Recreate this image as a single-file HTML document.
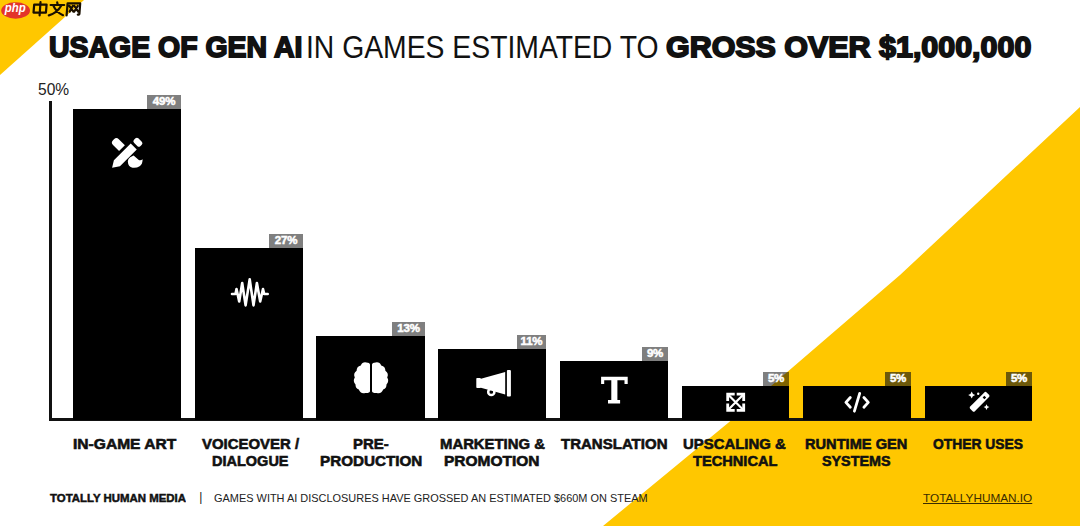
<!DOCTYPE html>
<html><head><meta charset="utf-8">
<style>
html,body{margin:0;padding:0}
body{width:1080px;height:526px;overflow:hidden;background:#fff;position:relative;font-family:"Liberation Sans",sans-serif;color:#111}
.a{position:absolute;white-space:nowrap;transform-origin:0 0}
.bar{position:absolute;background:#000}
.lab{position:absolute;background:rgba(0,0,0,0.5);color:#fff;font-weight:bold;font-size:11.5px;line-height:13px;height:14px;text-align:center;-webkit-text-stroke:0.5px #fff;letter-spacing:-0.2px}
.lab span{display:inline-block;transform-origin:50% 50%}
svg{position:absolute}
</style></head>
<body>
<svg style="left:0;top:0" width="1080" height="526" viewBox="0 0 1080 526">
  <polygon points="0,0 84,0 0,75" fill="#FFC700"/>
  <polygon points="603,526 728,423 900,275 1080,107 1080,526" fill="#FFC700"/>
</svg>
<svg style="left:0;top:0" width="84" height="22" viewBox="0 0 84 22">
  <ellipse cx="15.6" cy="10.5" rx="14.4" ry="8.2" fill="#E3342A"/>
  <text x="4.8" y="12.2" font-family="Liberation Sans" font-weight="bold" font-style="italic" font-size="12.5" fill="#fff" textLength="21" lengthAdjust="spacingAndGlyphs">php</text>
  <g fill="none" stroke="#1a1000" stroke-width="2.2" stroke-linecap="round" stroke-linejoin="round">
    <path d="M34.2,4.6 L46.6,4.6 L45.9,12.6 L33.5,12.6 Z M40.5,2.2 L39.6,15.4"/>
    <path d="M57.2,2.4 L57.6,4.2 M50.6,5 L64.2,5 M53.4,5.6 Q56,12 63,15.2 M61.2,5.8 Q57,13 48.8,15.4"/>
    <path d="M66.6,15.4 L67.6,3.4 L80.2,3.4 L79.4,13.8 Q79.2,15 77.8,14.6 M69.4,6 L73.4,11.6 M72.8,6 L69.6,11.6 M74.4,6 L78.2,11.6 M77.8,6 L74.2,11.6"/>
  </g>
</svg>
<div class="a" style="left:48.82px;top:32.40px;font-size:30px;line-height:30px;transform:scaleX(0.9482);font-weight:bold;-webkit-text-stroke:1.8px #111">USAGE OF GEN AI</div>
<div class="a" style="left:306.07px;top:32.20px;font-size:31px;line-height:31px;transform:scaleX(0.9136);">IN GAMES ESTIMATED TO</div>
<div class="a" style="left:666.01px;top:32.40px;font-size:30px;line-height:30px;transform:scaleX(1.0143);font-weight:bold;-webkit-text-stroke:1.8px #111">GROSS OVER $1,000,000</div>
<div class="a" style="left:38.12px;top:82.00px;font-size:16px;line-height:16px;transform:scaleX(0.9714);color:#222">50%</div>
<div class="bar" style="left:49px;top:101px;width:3px;height:320px;background:#111"></div>
<div class="bar" style="left:49px;top:418px;width:983px;height:3px;background:#111"></div>
<div class="bar" style="left:73px;top:109px;width:108px;height:311px"></div>
<div class="bar" style="left:195px;top:248px;width:108px;height:172px"></div>
<div class="bar" style="left:316px;top:336px;width:109px;height:84px"></div>
<div class="bar" style="left:438px;top:349px;width:108px;height:71px"></div>
<div class="bar" style="left:560px;top:361px;width:108px;height:59px"></div>
<div class="bar" style="left:682px;top:386px;width:107px;height:34px"></div>
<div class="bar" style="left:803px;top:386px;width:108px;height:34px"></div>
<div class="bar" style="left:925px;top:386px;width:107px;height:34px"></div>
<div class="lab" style="left:147px;top:95px;width:34px">49%</div>
<div class="lab" style="left:269px;top:234px;width:34px">27%</div>
<div class="lab" style="left:392px;top:322px;width:33px">13%</div>
<div class="lab" style="left:517px;top:335px;width:29px">11%</div>
<div class="lab" style="left:642px;top:347px;width:26px">9%</div>
<div class="lab" style="left:763px;top:372px;width:26px">5%</div>
<div class="lab" style="left:885px;top:372px;width:26px;background:#6c580a">5%</div>
<div class="lab" style="left:1006px;top:372px;width:26px;background:#6c580a">5%</div>
<div class="a" style="left:72.61px;top:436.00px;font-size:15px;line-height:15px;transform:scaleX(1.0388);font-weight:bold;-webkit-text-stroke:0.6px #111">IN-GAME ART</div>
<div class="a" style="left:202.00px;top:436.00px;font-size:15px;line-height:15px;transform:scaleX(0.9949);font-weight:bold;-webkit-text-stroke:0.6px #111">VOICEOVER /</div>
<div class="a" style="left:211.73px;top:453.00px;font-size:15px;line-height:15px;transform:scaleX(0.9667);font-weight:bold;-webkit-text-stroke:0.6px #111">DIALOGUE</div>
<div class="a" style="left:352.60px;top:436.00px;font-size:15px;line-height:15px;transform:scaleX(0.9974);font-weight:bold;-webkit-text-stroke:0.6px #111">PRE-</div>
<div class="a" style="left:320.08px;top:453.00px;font-size:15px;line-height:15px;transform:scaleX(1.0152);font-weight:bold;-webkit-text-stroke:0.6px #111">PRODUCTION</div>
<div class="a" style="left:439.61px;top:436.00px;font-size:15px;line-height:15px;transform:scaleX(0.9914);font-weight:bold;-webkit-text-stroke:0.6px #111">MARKETING &amp;</div>
<div class="a" style="left:443.97px;top:453.00px;font-size:15px;line-height:15px;transform:scaleX(1.0330);font-weight:bold;-webkit-text-stroke:0.6px #111">PROMOTION</div>
<div class="a" style="left:561.10px;top:436.00px;font-size:15px;line-height:15px;transform:scaleX(1.0010);font-weight:bold;-webkit-text-stroke:0.6px #111">TRANSLATION</div>
<div class="a" style="left:683.21px;top:436.00px;font-size:15px;line-height:15px;transform:scaleX(0.9932);font-weight:bold;-webkit-text-stroke:0.6px #111">UPSCALING &amp;</div>
<div class="a" style="left:692.90px;top:453.00px;font-size:15px;line-height:15px;transform:scaleX(0.9745);font-weight:bold;-webkit-text-stroke:0.6px #111">TECHNICAL</div>
<div class="a" style="left:804.93px;top:436.00px;font-size:15px;line-height:15px;transform:scaleX(0.9748);font-weight:bold;-webkit-text-stroke:0.6px #111">RUNTIME GEN</div>
<div class="a" style="left:822.23px;top:453.00px;font-size:15px;line-height:15px;transform:scaleX(0.9548);font-weight:bold;-webkit-text-stroke:0.6px #111">SYSTEMS</div>
<div class="a" style="left:933.41px;top:436.00px;font-size:15px;line-height:15px;transform:scaleX(0.9226);font-weight:bold;-webkit-text-stroke:0.6px #111">OTHER USES</div>
<div class="a" style="left:49.80px;top:493.00px;font-size:11.5px;line-height:11.5px;transform:scaleX(0.9927);font-weight:bold;-webkit-text-stroke:0.5px #111">TOTALLY HUMAN MEDIA</div>
<div class="a" style="left:199.20px;top:490.50px;font-size:12px;line-height:12px;transform:scaleX(1.0000);color:#222">|</div>
<div class="a" style="left:213.51px;top:493.00px;font-size:11px;line-height:11px;transform:scaleX(0.9945);color:#222">GAMES WITH AI DISCLOSURES HAVE GROSSED AN ESTIMATED $660M ON STEAM</div>
<div class="a" style="left:922.70px;top:493.00px;font-size:11px;line-height:11px;transform:scaleX(1.0703);color:#3a2c00;text-decoration:underline">TOTALLYHUMAN.IO</div>
<svg style="left:0;top:0" width="1080" height="526" viewBox="0 0 1080 526">
 <!-- pen ruler -->
 <g transform="translate(127.5,153) rotate(-45)" fill="#fff">
  <path d="M-14.8,-4.45 H9 V4.1 H-14.8 Z M-14.8,-4.45 L-21.4,-0.4 L-14.8,4.1 Z"/>
  <rect x="11.9" y="-4.7" width="6.1" height="8.9" rx="2"/>
  <path d="M-4.6,-7.3 V-15.9 A3.4,3.4 0 0 1 -1.2,-19.3 H0.2 A3.4,3.4 0 0 1 3.6,-15.9 V-7.3 Z"/>
 </g>
 <path fill="#fff" d="M127.8,161.2 Q128,158.6 130.2,157.2 L133.6,155.6 L138.8,159.9 Q140.8,160.6 142.6,159.2 Q142.8,164 139.6,166.2 Q136.5,168.2 132.6,167.7 Q128,166.8 127.8,161.2 Z"/>
 <!-- waveform -->
 <polyline fill="none" stroke="#fff" stroke-width="2.6" stroke-linejoin="round" stroke-linecap="round"
   points="232,294 235.5,294 236.5,289 239.2,301.5 242.2,283 245.6,305.4 249.7,279.2 253.5,305.4 256.9,283 260.2,301.5 263,289 264.2,294 267.7,294"/>
 <!-- brain -->
 <g fill="#fff">
  <path id="hemi" d="M370,364.4 Q369.7,362.4 366.4,362.4 A5,5 0 0 0 360.8,365.4 A5.5,5.5 0 0 0 356.6,370.8 A5.5,5.5 0 0 0 354.8,377.6 A5.5,5.5 0 0 0 355.5,384.4 A5.5,5.5 0 0 0 358.8,389.6 A5.5,5.5 0 0 0 365.2,393 Q370,393.2 370,391 Z"/>
  <use href="#hemi" transform="translate(742,0) scale(-1,1)"/>
 </g>
 <!-- megaphone -->
 <g fill="#fff">
  <rect x="476.3" y="378" width="4.5" height="10" rx="0.8"/>
  <polygon points="480,379 505.2,372 505.2,394.6 480,387.4"/>
  <rect x="506.9" y="370" width="4" height="26.6" rx="1"/>
 </g>
 <circle cx="491.3" cy="391.9" r="3.1" fill="none" stroke="#fff" stroke-width="2.5"/>
 <!-- T -->
 <path fill="#fff" d="M601.1,376.8 H627.7 V384 H624.5 V380.3 H617.4 V400 H620.1 V403.5 H608 V400 H611.3 V380.3 H604.2 V384 H601.1 Z"/>
 <!-- expand -->
 <g fill="none" stroke="#fff" stroke-width="2.8" stroke-linecap="square">
  <path d="M727.7,399.6 V394.2 H733.3 M738.1,394.2 H743.7 V399.6 M743.7,404.9 V410.3 H738.1 M733.3,410.3 H727.7 V404.9"/>
 </g>
 <path fill="none" stroke="#fff" stroke-width="2.2" d="M728.5,395 L742.9,409.5 M742.9,395 L728.5,409.5"/>
 <!-- code -->
 <g fill="none" stroke="#fff" stroke-width="2.8" stroke-linecap="round" stroke-linejoin="round">
  <polyline points="850.3,397.5 845.9,402.4 850.3,407.2"/>
  <polyline points="863.9,397.5 868.3,402.4 863.9,407.2"/>
  <line x1="859.7" y1="393.4" x2="854.4" y2="411.2"/>
 </g>
 <!-- magic wand -->
 <g fill="#fff">
  <g transform="translate(979.6,401.8) rotate(-45)">
   <rect x="-11.6" y="-3.3" width="23.2" height="6.6" rx="1.6"/>
  </g>
  <path d="M971.7,391.6 Q972.3,394.5 975.2,395.1 Q972.3,395.7 971.7,398.6 Q971.1,395.7 968.2,395.1 Q971.1,394.5 971.7,391.6 Z"/>
  <circle cx="978.2" cy="393.8" r="1.2"/>
  <path d="M986.5,404.2 Q987,406.6 989.4,407.1 Q987,407.6 986.5,410 Q986,407.6 983.6,407.1 Q986,406.6 986.5,404.2 Z"/>
 </g>
 <g transform="translate(984.4,397.5) rotate(-45)"><rect x="-1.2" y="-1.3" width="2.4" height="2.6" fill="#000"/></g>
</svg>
</body></html>
